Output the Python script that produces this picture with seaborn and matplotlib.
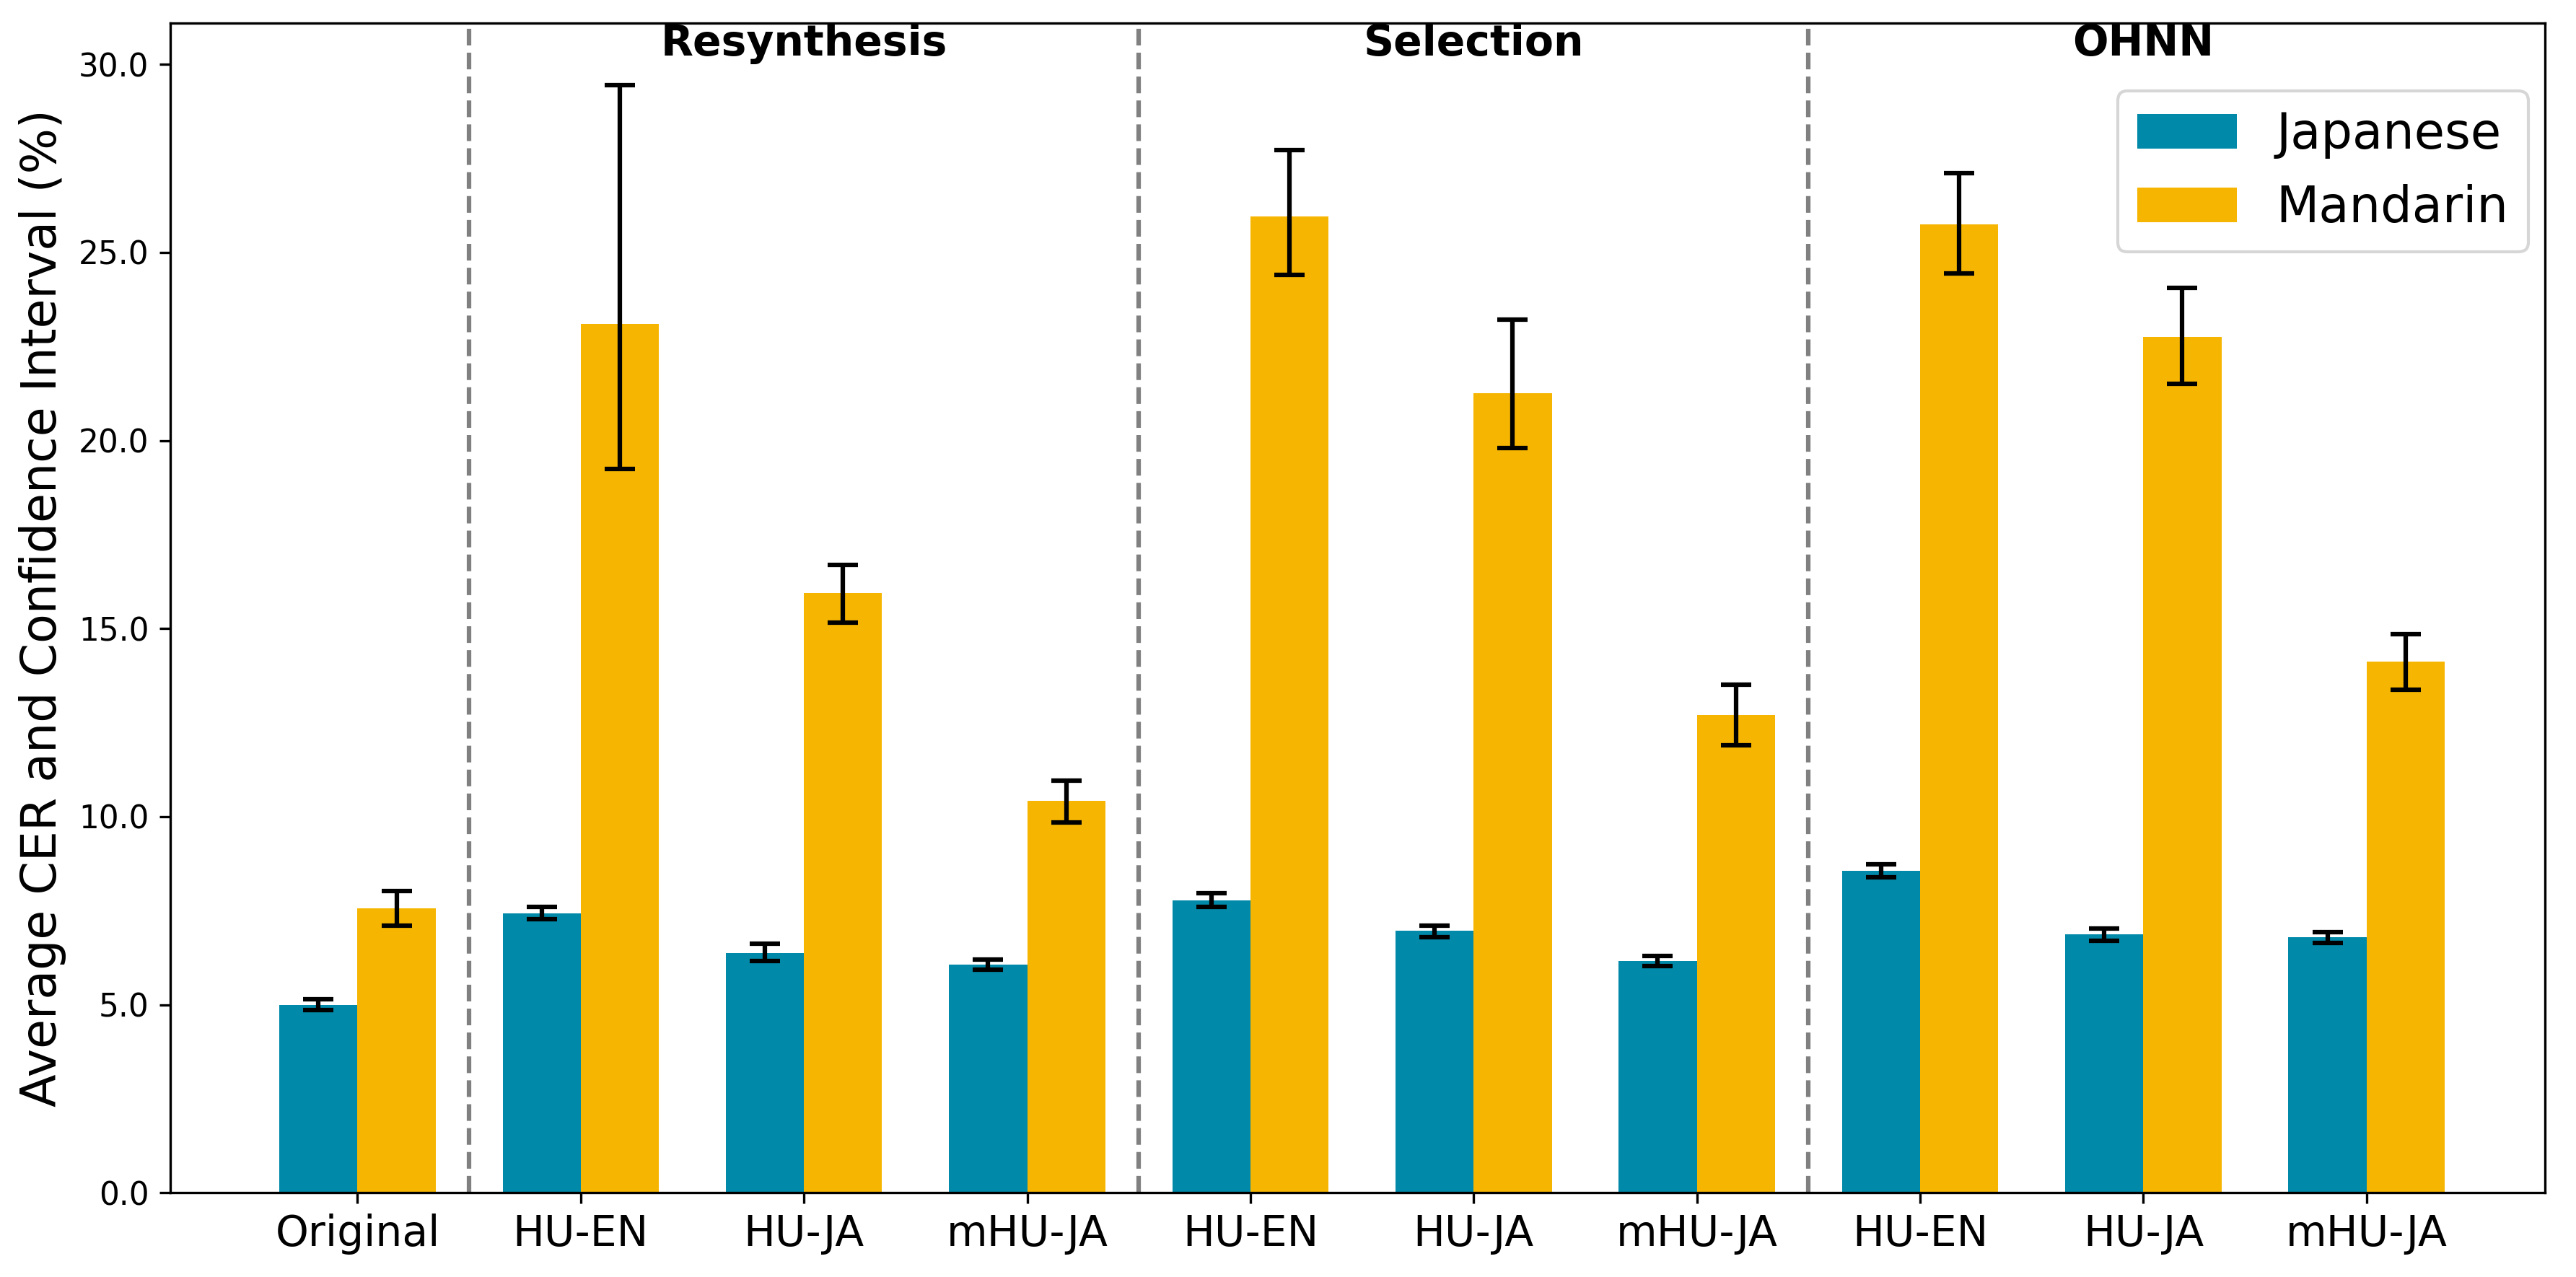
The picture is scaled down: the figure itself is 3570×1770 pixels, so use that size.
import numpy as np
import pandas as pd
import seaborn as sns
import matplotlib
matplotlib.use('Agg')
import matplotlib.pyplot as plt
from matplotlib.ticker import FormatStrFormatter

# categories (unique keys) and displayed tick labels
keys = ['Original',
        'Resynthesis HU-EN', 'Resynthesis HU-JA', 'Resynthesis mHU-JA',
        'Selection HU-EN', 'Selection HU-JA', 'Selection mHU-JA',
        'OHNN HU-EN', 'OHNN HU-JA', 'OHNN mHU-JA']
tick_labels = ['Original', 'HU-EN', 'HU-JA', 'mHU-JA', 'HU-EN', 'HU-JA', 'mHU-JA',
               'HU-EN', 'HU-JA', 'mHU-JA']
groups = ['Resynthesis', 'Selection', 'OHNN']

# average CER and CI bounds (%)
ja_mean = [5.0, 7.42, 6.37, 6.06, 7.78, 6.96, 6.17, 8.56, 6.87, 6.79]
ja_low = [4.85, 7.28, 6.17, 5.93, 7.60, 6.80, 6.03, 8.38, 6.70, 6.64]
ja_high = [5.14, 7.60, 6.62, 6.20, 7.96, 7.11, 6.30, 8.74, 7.02, 6.93]
zh_mean = [7.56, 23.1, 15.95, 10.42, 25.95, 21.25, 12.70, 25.75, 22.75, 14.12]
zh_low = [7.10, 19.25, 15.15, 9.85, 24.40, 19.80, 11.90, 24.45, 21.50, 13.37]
zh_high = [8.03, 29.45, 16.70, 10.95, 27.72, 23.22, 13.50, 27.10, 24.05, 14.85]

colors = {'Japanese': '#0089A8', 'Mandarin': '#F6B500'}

df = pd.DataFrame({
    'cond': keys * 2,
    'lang': ['Japanese'] * len(keys) + ['Mandarin'] * len(keys),
    'cer': ja_mean + zh_mean,
})

fig, ax = plt.subplots(1, 1, figsize=(11.9, 5.9), dpi=300)
fig.subplots_adjust(left=0.066, right=0.988, top=0.982, bottom=0.066)

sns.barplot(data=df, x='cond', y='cer', hue='lang', order=keys,
            hue_order=['Japanese', 'Mandarin'], palette=colors,
            width=0.7, errorbar=None, saturation=1, ax=ax)

# error bars at the bar centres
for cont, means, lows, highs in [(ax.containers[0], ja_mean, ja_low, ja_high),
                                 (ax.containers[1], zh_mean, zh_low, zh_high)]:
    xs = [p.get_x() + p.get_width() / 2 for p in cont]
    m = np.array(means)
    yerr = np.vstack([m - np.array(lows), np.array(highs) - m])
    ax.errorbar(xs, m, yerr=yerr, fmt='none', ecolor='black',
                elinewidth=1.5, capsize=5, capthick=1.5, zorder=5)

# group separators and labels
for i in range(3):
    ax.axvline(0.5 + 3 * i, color='gray', linestyle='--', linewidth=1.5)
    ax.text(2 + 3 * i, 30.55, groups[i], ha='center', va='center',
            fontsize=14, fontweight='bold')

ax.set_xlim(-0.84, 9.8)
ax.set_ylim(0, 31.1)
ax.set_yticks(np.arange(0, 31, 5))
ax.yaxis.set_major_formatter(FormatStrFormatter('%.1f'))
ax.set_xticks(range(len(keys)))
ax.set_xticklabels(tick_labels, fontsize=14)
ax.tick_params(axis='y', labelsize=10.5)
ax.set_xlabel('')
ax.set_ylabel('Average CER and Confidence Interval (%)', fontsize=16)

handles, labels = ax.get_legend_handles_labels()
ax.legend(handles, labels, loc='upper right', fontsize=16.5,
          borderaxespad=0, bbox_to_anchor=(0.993, 0.942))

fig.savefig('out.png', dpi=300)
